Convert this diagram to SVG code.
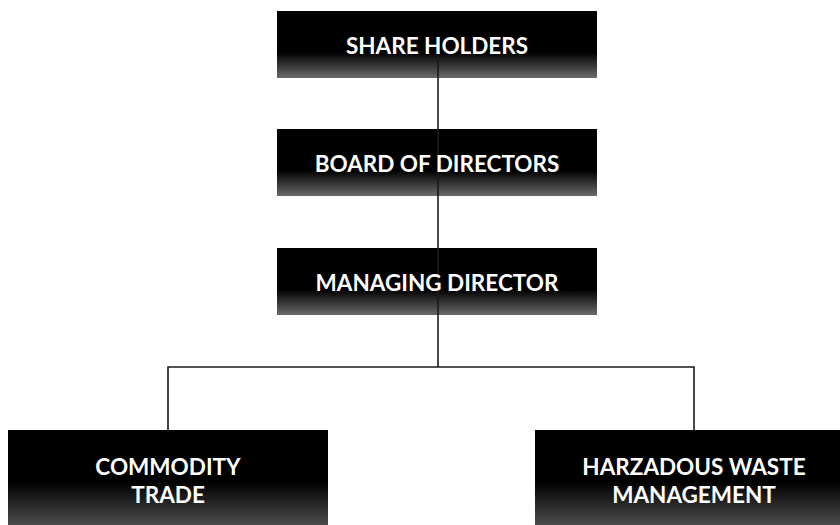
<svg xmlns="http://www.w3.org/2000/svg" width="840" height="525" viewBox="0 0 840 525">
  <defs>
    <linearGradient id="g1" x1="0" y1="0" x2="0" y2="1">
      <stop offset="0" stop-color="#000"/>
      <stop offset="0.62" stop-color="#000"/>
      <stop offset="1" stop-color="#6a6a6a"/>
    </linearGradient>
    <linearGradient id="g2" x1="0" y1="0" x2="0" y2="1">
      <stop offset="0" stop-color="#000"/>
      <stop offset="0.47" stop-color="#000"/>
      <stop offset="1" stop-color="#666"/>
    </linearGradient>
  </defs>
  <style>
    .box { fill: url(#g1); }
    .box2 { fill: url(#g2); }
    .lbl { font-family: Lato, "Noto Sans", sans-serif; font-weight: bold; font-size: 22.5px; fill: #fff; text-anchor: middle; }
    .edge { stroke: #1a1a1a; stroke-width: 1.6; fill: none; }
  </style>
  <rect width="840" height="525" fill="#fff"/>
  <g id="n1"><rect class="box" x="277" y="11" width="320" height="67"/></g>
  <g id="n2"><rect class="box" x="277" y="129" width="320" height="67"/></g>
  <g id="n3"><rect class="box" x="277" y="248" width="320" height="67"/></g>
  <g id="n4"><rect class="box2" x="8" y="430" width="320" height="110"/></g>
  <g id="n5"><rect class="box2" x="535" y="430" width="320" height="110"/></g>
  <g id="connectors">
    <path class="edge" d="M438 60 V367"/>
    <path class="edge" d="M168 431 V367 H694 V431"/>
  </g>
  <g id="labels">
    <text class="lbl" x="437" y="54">SHARE HOLDERS</text>
    <text class="lbl" x="437" y="172">BOARD OF DIRECTORS</text>
    <text class="lbl" x="437" y="291">MANAGING DIRECTOR</text>
    <text class="lbl" x="168" y="475">COMMODITY</text>
    <text class="lbl" x="168" y="503">TRADE</text>
    <text class="lbl" x="694" y="475">HARZADOUS WASTE</text>
    <text class="lbl" x="694" y="503">MANAGEMENT</text>
  </g>
</svg>
